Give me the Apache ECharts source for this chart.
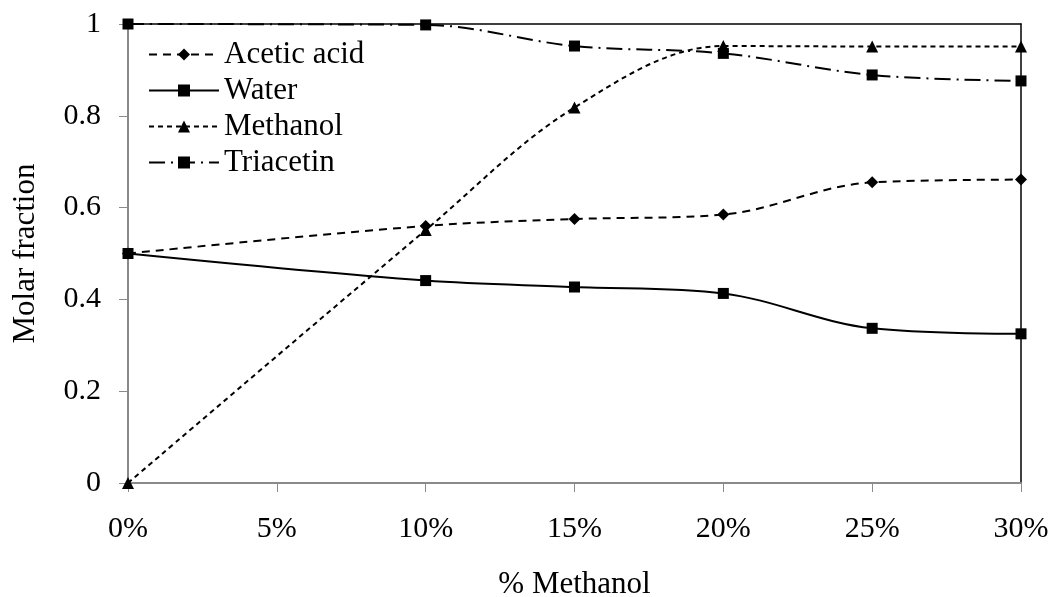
<!DOCTYPE html>
<html><head><meta charset="utf-8">
<script src="https://cdn.jsdelivr.net/npm/echarts@6/dist/echarts.min.js"></script>
<style>html,body{margin:0;padding:0;background:#fff}#c{width:1051px;height:597px}</style>
</head><body><div id="c"></div>
<script>
const xValues = [0, 0.10, 0.15, 0.20, 0.25, 0.30];
const aceticAcid = [0.5, 0.56, 0.575, 0.585, 0.655, 0.661];
const water = [0.5, 0.441, 0.427, 0.413, 0.337, 0.325];
const methanol = [0, 0.551, 0.818, 0.952, 0.951, 0.951];
const triacetin = [1.0, 0.998, 0.952, 0.936, 0.889, 0.876];
const seriesNames = ['Acetic acid', 'Water', 'Methanol', 'Triacetin'];

const FONT = 'Liberation Serif';
const FS = 30;
const pair = arr => xValues.map((x, i) => [x, arr[i]]);
const chart = echarts.init(document.getElementById('c'), null, {renderer: 'canvas'});

function mk(name, data, symbol, size, ltype) {
  return {
    name, type: 'line', data: pair(data), smooth: 0.35,
    symbol, symbolSize: size,
    lineStyle: {color: '#000', width: 2, type: ltype},
    itemStyle: {color: '#000'},
    emphasis: {disabled: true},
    xAxisIndex: 0, yAxisIndex: 0
  };
}

chart.setOption({
  animation: false,
  grid: {left: 128, right: 30, top: 24, bottom: 114, containLabel: false, outerBoundsMode: 'none'},
  legend: {
    orient: 'vertical', left: 143, top: 34, itemGap: 5, padding: 5,
    itemWidth: 70, itemHeight: 15,
    textStyle: {fontFamily: FONT, fontSize: 31, color: '#000'},
    data: seriesNames
  },
  xAxis: [{
    type: 'value', min: 0, max: 0.30, interval: 0.05, position: 'bottom',
    name: '% Methanol', nameLocation: 'middle', nameGap: 86,
    nameTextStyle: {fontFamily: FONT, fontSize: 31, color: '#000'},
    axisLine: {show: true, onZero: false, lineStyle: {color: '#8a8a8a', width: 2}},
    axisTick: {show: true, length: 9, lineStyle: {color: '#8a8a8a', width: 1}},
    axisLabel: {fontFamily: FONT, fontSize: FS, color: '#000', margin: 31,
      formatter: v => Math.round(v * 100) + '%'},
    splitLine: {show: false}
  }, {
    type: 'value', min: 0, max: 0.30, position: 'top',
    axisLine: {show: true, onZero: false, lineStyle: {color: '#000', width: 1.5}},
    axisTick: {show: false}, axisLabel: {show: false}, splitLine: {show: false}
  }],
  yAxis: [{
    type: 'value', min: 0, max: 1, interval: 0.2, position: 'left',
    name: 'Molar fraction', nameLocation: 'middle', nameGap: 87, nameRotate: 90,
    nameTextStyle: {fontFamily: FONT, fontSize: 31, color: '#000'},
    axisLine: {show: true, onZero: false, lineStyle: {color: '#8a8a8a', width: 2}},
    axisTick: {show: true, length: 9, lineStyle: {color: '#8a8a8a', width: 1}},
    axisLabel: {fontFamily: FONT, fontSize: FS, color: '#000', margin: 27,
      formatter: v => String(Math.round(v * 10) / 10)},
    splitLine: {show: false}
  }, {
    type: 'value', min: 0, max: 1, position: 'right',
    axisLine: {show: true, onZero: false, lineStyle: {color: '#000', width: 1.5}},
    axisTick: {show: false}, axisLabel: {show: false}, splitLine: {show: false}
  }],
  series: [
    mk(seriesNames[0], aceticAcid, 'diamond', 12, [8, 6]),
    mk(seriesNames[1], water, 'rect', 11, 'solid'),
    mk(seriesNames[2], methanol, 'triangle', 12, [5, 4]),
    mk(seriesNames[3], triacetin, 'rect', 11, [16, 6, 2, 6])
  ]
});
</script></body></html>
